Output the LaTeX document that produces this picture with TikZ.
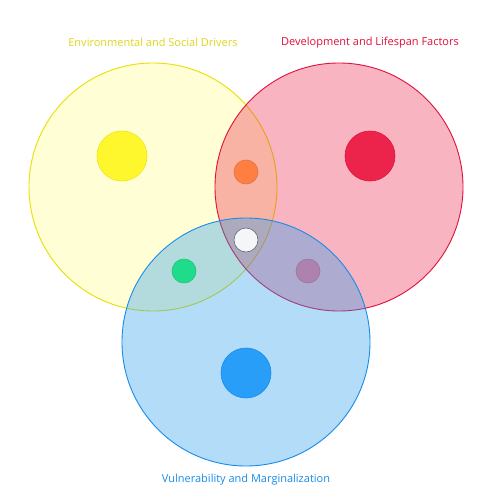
\documentclass[tikz,border=0pt]{standalone}
\usepackage{fontspec}
\setmainfont{Open Sans}
\definecolor{ybase}{RGB}{255,250,40}
\definecolor{yedge}{RGB}{232,224,0}
\definecolor{ylabel}{RGB}{222,214,30}
\definecolor{rbase}{RGB}{235,41,75}
\definecolor{redge}{RGB}{225,16,60}
\definecolor{bbase}{RGB}{38,155,238}
\definecolor{bedge}{RGB}{24,140,232}
\definecolor{ydot}{RGB}{255,247,46}
\definecolor{rdot}{RGB}{236,36,76}
\definecolor{bdot}{RGB}{40,158,248}
\definecolor{odot}{RGB}{255,127,67}
\definecolor{gdot}{RGB}{30,220,138}
\definecolor{pdot}{RGB}{174,130,174}
\begin{document}
\begin{tikzpicture}[x=1pt,y=-1pt,
  big/.style={circle,minimum size=248pt,inner sep=0pt,line width=0.9pt},
  bigdot/.style={circle,minimum size=50pt,inner sep=0pt,line width=0.6pt},
  smalldot/.style={circle,minimum size=24pt,inner sep=0pt,line width=0.6pt},
  lab/.style={font=\fontsize{11}{13}\selectfont,anchor=center}]
\useasboundingbox (0,0) rectangle (484,498);
\fill[white] (0,0) rectangle (484,498);
\node[big,draw=yedge,fill=ybase,fill opacity=0.2,draw opacity=1] (Y) at (153,187) {};
\node[big,draw=redge,fill=rbase,fill opacity=0.35,draw opacity=1] (R) at (339,187) {};
\node[big,draw=bedge,fill=bbase,fill opacity=0.35,draw opacity=1] (B) at (246,342) {};
\node[bigdot,draw=yedge!70!ydot,fill=ydot] (yd) at (122,156) {};
\node[bigdot,draw=redge,fill=rdot] (rd) at (370,156) {};
\node[bigdot,draw=bedge,fill=bdot] (bd) at (246,373) {};
\node[smalldot,draw=odot!90!black,fill=odot] (od) at (246,172) {};
\node[smalldot,draw={rgb,255:red,95;green,107;blue,115},fill={rgb,255:red,245;green,246;blue,248}] (wd) at (246,240) {};
\node[smalldot,draw=gdot!90!black,fill=gdot] (gd) at (184,271) {};
\node[smalldot,draw=pdot!90!black,fill=pdot] (pd) at (308,271) {};
\node[lab,text=ylabel] (yl) at (153,42.5) {Environmental and Social Drivers};
\node[lab,text=redge] (rl) at (370,42.5) {Development and Lifespan Factors};
\node[lab,text=bedge] (bl) at (246,479.5) {Vulnerability and Marginalization};
\end{tikzpicture}
\end{document}
